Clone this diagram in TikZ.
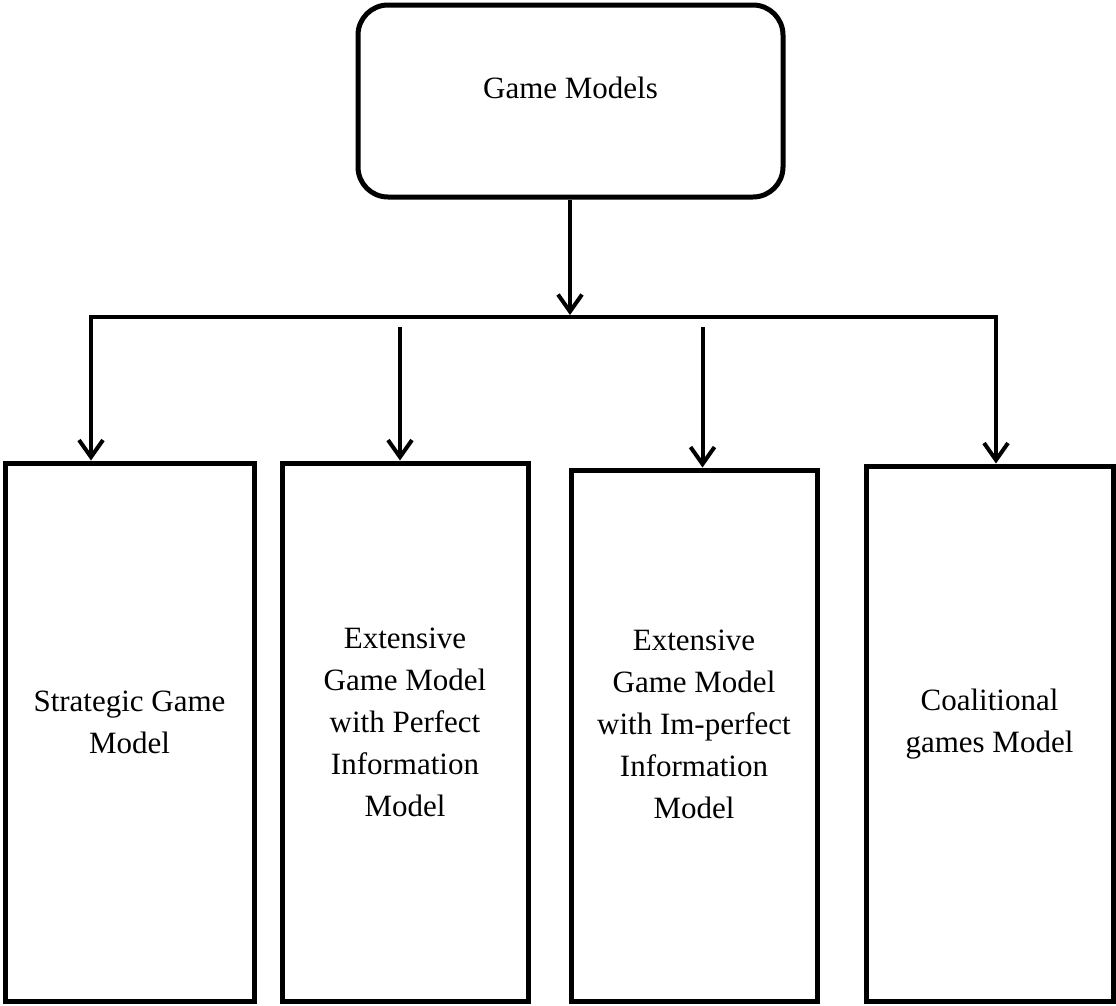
\documentclass[tikz,border=0pt]{standalone}
\usepackage{fontspec}
\setmainfont{Liberation Serif}
\usetikzlibrary{arrows.meta}
\begin{document}
\begin{tikzpicture}[x=1pt,y=-1pt,
  topbox/.style={draw=black, line width=5pt, rounded corners=30pt, minimum width=425pt, minimum height=192pt, inner sep=0pt},
  leafbox/.style={draw=black, line width=5pt, minimum width=#1, minimum height=538pt, inner sep=0pt},
  lbl/.style={align=center, font=\fontsize{31}{42}\selectfont, inner sep=0pt},
  conn/.style={line width=4pt, draw=black},
  arr/.style={conn, -{Straight Barb[length=17pt,width=24pt]}}
]
\path[use as bounding box, fill=white] (0,0) rectangle (1116,1005);

% top box
\node[topbox] (top) at (570.5,101) {};
\node[lbl, anchor=base] (toptxt) at (570.5,98) {Game Models};

% leaf boxes
\node[leafbox=249pt] (b1) at (129.5,732) {};
\node[leafbox=246pt] (b2) at (405,732) {};
\node[leafbox=246pt, minimum height=531.5pt] (b3) at (694,735.75) {};
\node[leafbox=247pt, minimum height=535.5pt] (b4) at (989.5,733.75) {};

\node[lbl] (t1) at (129.5,722) {Strategic Game\\Model};
\node[lbl] (t2) at (405,722) {Extensive\\Game Model\\with Perfect\\Information\\Model};
\node[lbl] (t3) at (694,724) {Extensive\\Game Model\\with Im-perfect\\Information\\Model};
\node[lbl] (t4) at (989.5,724) {Coalitional\\games Model};

% connector coordinates
\coordinate (j) at (570,315);
\coordinate (hl) at (89,317);
\coordinate (hr) at (998,317);
\coordinate (a1) at (91,317);
\coordinate (a2) at (400,327);
\coordinate (a3) at (702.5,327);
\coordinate (a4) at (996,317);

% connectors
\draw[arr] (top.south -| j) -- (j);
\draw[conn, line width=4.5pt] (hl) -- (hr);
\draw[arr] (a1) -- (a1 |- b1.north);
\draw[arr] (a2) -- (a2 |- b2.north);
\draw[arr] (a3) -- (a3 |- b3.north);
\draw[arr] (a4) -- (a4 |- b4.north);
\end{tikzpicture}
\end{document}
